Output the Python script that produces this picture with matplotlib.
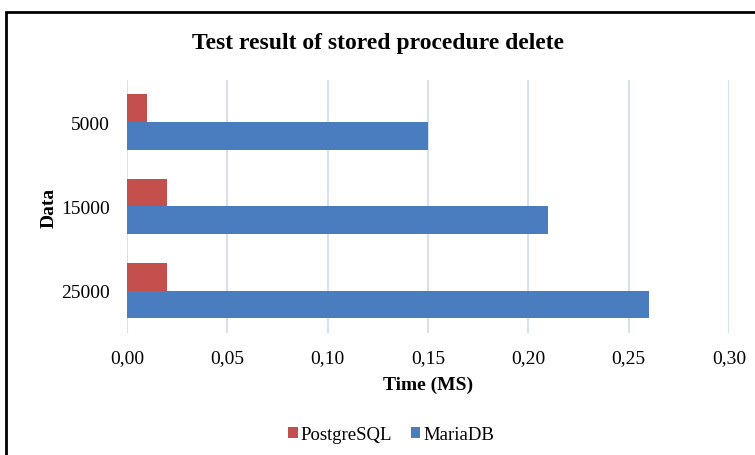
import numpy as np
import matplotlib.pyplot as plt
from matplotlib.patches import Rectangle

# data
categories = ["5000", "15000", "25000"]
postgresql = [0.01, 0.02, 0.02]
mariadb = [0.15, 0.21, 0.26]
x_ticks = [0.00, 0.05, 0.10, 0.15, 0.20, 0.25, 0.30]
x_tick_labels = ["0,00", "0,05", "0,10", "0,15", "0,20", "0,25", "0,30"]

plt.rcParams['font.family'] = ['Liberation Serif', 'DejaVu Serif']

fig = plt.figure(figsize=(7.55, 4.56), dpi=100)
ax = fig.add_axes([0.168, 0.268, 0.7975, 0.554])

y = np.arange(len(categories))
h = 0.33
ax.barh(y - h / 2, postgresql, height=h, color='#C4504D', label='PostgreSQL', zorder=3)
ax.barh(y + h / 2, mariadb, height=h, color='#4A7DBF', label='MariaDB', zorder=3)

ax.set_xlim(0, 0.30)
ax.set_ylim(2.5, -0.5)
ax.set_xticks(x_ticks)
ax.set_xticklabels(x_tick_labels, fontsize=14)
ax.set_yticks(y)
ax.set_yticklabels(categories, fontsize=14)
ax.tick_params(axis='x', length=0, pad=12)
ax.tick_params(axis='y', length=0, pad=12)
ax.grid(axis='x', color='#D6E2F2', linewidth=1.5, zorder=0)
for s in ax.spines.values():
    s.set_visible(False)

ax.set_xlabel("Time (MS)", fontsize=14, fontweight='bold', labelpad=7)
ax.set_ylabel("Data", fontsize=14, fontweight='bold', labelpad=3)
fig.text(0.5, 0.905, "Test result of stored procedure delete",
         fontsize=17, fontweight='bold', ha='center', va='center')

ax.legend(loc='center', bbox_to_anchor=(0.518, 0.044), bbox_transform=fig.transFigure,
          ncol=2, frameon=False, fontsize=13.5, handlelength=0.5, handleheight=0.5,
          handletextpad=0.15, columnspacing=1.0)

# outer frame, cut off at the right and bottom like the screenshot
fig.patches.append(Rectangle((6 / 755, -0.05), 1.2, 1 - 13 / 456 + 0.05,
                             transform=fig.transFigure, fill=False,
                             edgecolor='black', linewidth=2))

fig.savefig("out.png", dpi=100)
